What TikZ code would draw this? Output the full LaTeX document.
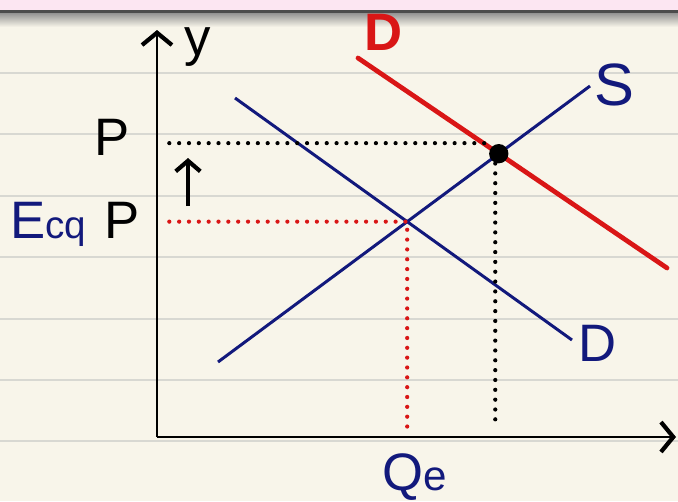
\documentclass[tikz,border=0pt]{standalone}
\usepackage{fontspec}
\setmainfont{Liberation Sans}
\usetikzlibrary{arrows.meta}
\definecolor{paper}{HTML}{F8F5EA}
\definecolor{rule-gray}{HTML}{D8D8D2}
\definecolor{header-pink}{HTML}{FCE6F2}
\definecolor{ink-blue}{HTML}{12197C}
\definecolor{ink-red}{HTML}{D91616}

\begin{document}
\begin{tikzpicture}[x=0.02cm, y=-0.02cm,
      every node/.style={font=\fontsize{30}{30}\selectfont, inner sep=0pt},
      axis/.style={line width=1.6pt, -{Straight Barb[length=7pt, width=17pt, line width=2.4pt]}},
      curve/.style={line width=1.7pt, ink-blue},
      shifted/.style={line width=2.7pt, ink-red},
      guide/.style={line width=2.4pt, line cap=round, dash pattern=on 0pt off 5.6pt}]
    \useasboundingbox (0,0) rectangle (678,501);
    % notebook paper
    \fill[paper] (0,0) rectangle (678,501);
    \foreach \ry in {73,134.4,195.8,257.2,318.6,380,441.4}
      \draw[rule-gray, line width=1.1pt] (0,\ry) -- (678,\ry);
    \fill[header-pink] (0,0) rectangle (678,10);
    \shade[top color=black!45, bottom color=paper] (0,12) rectangle (678,27);
    \fill[black!70] (0,9.5) rectangle (678,12.5);
    % axes
    \coordinate (origin) at (157,437);
    \coordinate (y-end) at (157,30);
    \coordinate (x-end) at (676,437);
    \draw[axis] (origin) -- (y-end);
    \draw[axis] (origin) -- (x-end);
    \node (y-lbl) at (198,47) {y};
    % supply and demand lines
    \coordinate (s-lo) at (218,362);
    \coordinate (s-hi) at (590,86);
    \coordinate (d-hi) at (235,98);
    \coordinate (d-lo) at (572,340);
    \coordinate (d2-hi) at (358,58);
    \coordinate (d2-lo) at (667,268);
    \draw[curve] (s-lo) -- (s-hi);
    \draw[curve] (d-hi) -- (d-lo);
    \draw[shifted, line cap=round] (d2-hi) -- (d2-lo);
    \node[ink-blue, font=\fontsize{34}{34}\selectfont] (s-lbl) at (614,85) {S};
    \node[ink-blue] (d-lbl) at (598,343) {D};
    \node[ink-red, font=\fontsize{30}{30}\selectfont\bfseries] (d2-lbl) at (384,32) {D};
    % equilibria
    \coordinate (eq1) at (intersection of s-lo--s-hi and d-hi--d-lo);
    \coordinate (eq2) at (intersection of s-lo--s-hi and d2-hi--d2-lo);
    \draw[guide, ink-red, shorten <=7pt, shorten >=4pt] (eq1 -| origin) -- (eq1) -- (eq1 |- origin);
    \draw[guide, shorten <=7pt] ([yshift=6pt]eq2 -| origin) -- ([xshift=-5pt, yshift=6pt]eq2);
    \draw[guide, shorten >=7pt] ([xshift=-2pt]eq2) -- ([xshift=-2pt]eq2 |- origin);
    \fill (eq2) circle[radius=5.5pt];
    % price labels
    \node (p-lbl) at (112,137) {P};
    \node[ink-blue, anchor=base west] (eq-lbl) at (10,238) {E\fontsize{22}{22}\selectfont cq};
    \node[anchor=base west] (eqp-lbl) at (104,238) {P};
    \coordinate (up-lo) at (188,206);
    \coordinate (up-hi) at (188,158);
    \draw[line width=1.8pt, -{Straight Barb[length=6pt, width=14pt, line width=2.4pt]}] (up-lo) -- (up-hi);
    \node[ink-blue, anchor=base] (q-lbl) at (415,490) {Q\fontsize{24}{24}\selectfont e};
  \end{tikzpicture}
\end{document}
